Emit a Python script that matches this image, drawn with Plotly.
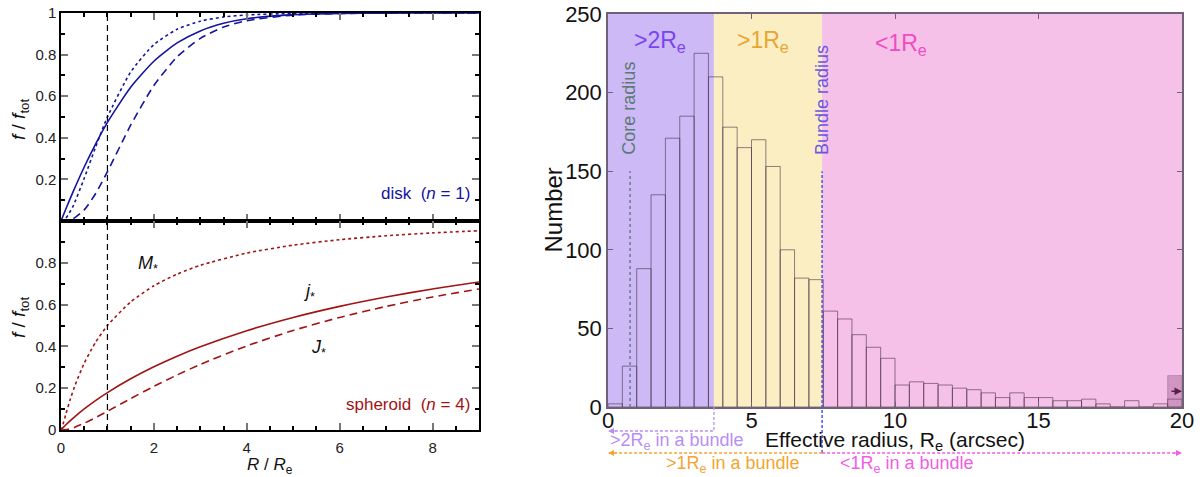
import plotly.graph_objects as go

W, H = 1203, 477

# ---------------- left panels: cumulative fractions ----------------
R_disk = [0, 0.1, 0.25, 0.5, 0.75, 1, 1.5, 2, 2.5, 3, 3.5, 4, 5, 6, 7, 8, 9]
disk_M = [0, 0.0126, 0.0668, 0.2054, 0.3584, 0.5000, 0.7162, 0.8481, 0.9217, 0.9607,
          0.9807, 0.9906, 0.9979, 0.9995, 0.9999, 1.0, 1.0]
disk_J = [0, 0.0007, 0.0090, 0.0533, 0.1334, 0.2372, 0.4606, 0.6517, 0.7891, 0.8782,
          0.9322, 0.9633, 0.9899, 0.9974, 0.9994, 0.9999, 1.0]
disk_j = [0, 0.0556, 0.135, 0.2595, 0.372, 0.474, 0.643, 0.768, 0.856, 0.914,
          0.9505, 0.9724, 0.992, 0.9979, 0.9995, 1.0, 1.0]

R_sph = [0, 0.02, 0.05, 0.1, 0.2, 0.3, 0.5, 0.75, 1, 1.5, 2, 2.5, 3, 4, 5, 6, 7, 8, 9]
sph_M = [0, 0.0096, 0.0319, 0.0720, 0.1471, 0.2127, 0.3198, 0.4217, 0.5000, 0.6127,
         0.6900, 0.7459, 0.7880, 0.8466, 0.8845, 0.9106, 0.9293, 0.9430, 0.9534]
sph_J = [0, 0.00005, 0.0004, 0.0017, 0.0066, 0.0137, 0.0322, 0.0598, 0.0895, 0.1502,
         0.2088, 0.2634, 0.3138, 0.4023, 0.4764, 0.5387, 0.5914, 0.6364, 0.6749]
sph_j = [0, 0.0051, 0.0124, 0.0237, 0.0448, 0.0645, 0.1008, 0.1418, 0.1790, 0.2452,
         0.3026, 0.3532, 0.3982, 0.4752, 0.5386, 0.5916, 0.6364, 0.6748, 0.7079]

R_e_line = 1.0

# ---------------- right panel: histogram ----------------
bin_width = 0.5
bin_starts = [i * bin_width for i in range(40)]
counts = [2, 26, 88, 135, 171, 185, 225, 210, 178, 165,
          170, 153, 100, 82, 81, 61, 56, 46, 38, 31,
          14, 16, 15, 14, 12, 11, 9, 6, 9, 6,
          6, 4, 4, 5, 2, 0, 4, 0, 2, 5]
overflow_start = 19.5
overflow_count = 20
overflow_arrow_level = 10

core_radius = 0.77
bundle_radius = 7.46
r2_edge = 3.69
line_top = 150
x_ticks_right = [0, 5, 10, 15, 20]
y_ticks_right = [0, 50, 100, 150, 200, 250]

BLUE = "#1414a0"
RED = "#a01414"
PURP_BG = "#cdb9f6"
YEL_BG = "#faeec2"
PINK_BG = "#f6c1e8"
C_PURP = "#7a44f0"
C_ORANGE = "#e8a532"
C_MAG = "#ee4cc0"
C_LPURP = "#b88ef6"
C_ORANGE2 = "#f5a431"
C_MAG2 = "#f25ce6"

FONT = "Liberation Sans, Arial, sans-serif"

fig = go.Figure()

# left top (disk)
fig.add_trace(go.Scatter(x=R_disk, y=disk_j, mode="lines", xaxis="x", yaxis="y",
                         line=dict(color=BLUE, width=1.6, shape="spline", smoothing=0.6)))
fig.add_trace(go.Scatter(x=R_disk, y=disk_M, mode="lines", xaxis="x", yaxis="y",
                         line=dict(color=BLUE, width=1.6, dash="dot", shape="spline", smoothing=0.6)))
fig.add_trace(go.Scatter(x=R_disk, y=disk_J, mode="lines", xaxis="x", yaxis="y",
                         line=dict(color=BLUE, width=1.6, dash="8px,5px", shape="spline", smoothing=0.6)))
# left bottom (spheroid)
fig.add_trace(go.Scatter(x=R_sph, y=sph_j, mode="lines", xaxis="x2", yaxis="y2",
                         line=dict(color=RED, width=1.6, shape="spline", smoothing=0.6)))
fig.add_trace(go.Scatter(x=R_sph, y=sph_M, mode="lines", xaxis="x2", yaxis="y2",
                         line=dict(color=RED, width=1.6, dash="dot", shape="spline", smoothing=0.6)))
fig.add_trace(go.Scatter(x=R_sph, y=sph_J, mode="lines", xaxis="x2", yaxis="y2",
                         line=dict(color=RED, width=1.6, dash="8px,5px", shape="spline", smoothing=0.6)))

# histogram
fig.add_trace(go.Bar(x=bin_starts, y=counts, width=bin_width, offset=0, xaxis="x3", yaxis="y3",
                     marker=dict(color="rgba(0,0,0,0)",
                                 line=dict(color="rgba(75,50,75,0.6)", width=1))))
fig.add_trace(go.Bar(x=[overflow_start], y=[overflow_count], width=bin_width, offset=0,
                     xaxis="x3", yaxis="y3",
                     marker=dict(color="rgba(140,70,120,0.35)",
                                 line=dict(color="rgba(120,60,100,0.3)", width=1))))

left_dom = [61 / W, 479 / W]
right_dom = [608 / W, 1182 / W]
top_dom = [1 - 221 / H, 1 - 13 / H]
bot_dom = [1 - 430 / H, 1 - 221 / H]
hist_dom = [1 - 407 / H, 1 - 14 / H]

left_axis = dict(showline=True, linecolor="black", linewidth=1.5, mirror="allticks",
                 ticks="inside", ticklen=7, tickwidth=1.5, tickcolor="#777777",
                 showgrid=False, zeroline=False, automargin=False,
                 tickfont=dict(family=FONT, size=15, color="#222222"))

fig.update_layout(
    width=W, height=H, margin=dict(l=0, r=0, t=0, b=0, autoexpand=False),
    paper_bgcolor="white", plot_bgcolor="white", showlegend=False, barmode="overlay",
    xaxis=dict(domain=left_dom, range=[0, 9], anchor="y", showticklabels=False,
               tickvals=[0, 2, 4, 6, 8],
               minor=dict(tickmode="linear", tick0=0, dtick=0.5, ticks="inside",
                          ticklen=4, tickcolor="black"), **left_axis),
    yaxis=dict(domain=top_dom, range=[0, 1], anchor="x",
               tickvals=[0.2, 0.4, 0.6, 0.8, 1.0], ticktext=["0.2", "0.4", "0.6", "0.8", "1"],
               minor=dict(tickmode="linear", tick0=0, dtick=0.1, ticks="inside",
                          ticklen=4, tickcolor="black"), **left_axis),
    xaxis2=dict(domain=left_dom, range=[0, 9], anchor="y2", ticklabelstandoff=3,
                tickvals=[0, 2, 4, 6, 8],
                minor=dict(tickmode="linear", tick0=0, dtick=0.5, ticks="inside",
                           ticklen=4, tickcolor="black"), **left_axis),
    yaxis2=dict(domain=bot_dom, range=[0, 1], anchor="x2",
                tickvals=[0, 0.2, 0.4, 0.6, 0.8], ticktext=["0", "0.2", "0.4", "0.6", "0.8"],
                minor=dict(tickmode="linear", tick0=0, dtick=0.1, ticks="inside",
                           ticklen=4, tickcolor="black"), **left_axis),
    xaxis3=dict(domain=right_dom, range=[0, 20], anchor="y3", tickvals=x_ticks_right,
                showline=True, linecolor="#6d6276", linewidth=1.5, mirror="ticks",
                ticks="inside", ticklen=5, tickcolor="#6d6276", showgrid=False, zeroline=False,
                automargin=False, ticklabelstandoff=-7,
                tickfont=dict(family=FONT, size=22, color="#111111")),
    yaxis3=dict(domain=hist_dom, range=[0, 250], anchor="x3", tickvals=y_ticks_right,
                showline=True, linecolor="#6d6276", linewidth=1.5, mirror="ticks",
                ticks="inside", ticklen=5, tickcolor="#6d6276", showgrid=False, zeroline=False,
                automargin=False,
                tickfont=dict(family=FONT, size=22, color="#111111")),
)

shapes = []
# background bands
shapes.append(dict(type="rect", xref="x3", yref="y3 domain", x0=0, x1=r2_edge, y0=0, y1=1,
                   fillcolor=PURP_BG, line=dict(width=0), layer="below"))
shapes.append(dict(type="rect", xref="x3", yref="y3 domain", x0=r2_edge, x1=bundle_radius, y0=0, y1=1,
                   fillcolor=YEL_BG, line=dict(width=0), layer="below"))
shapes.append(dict(type="rect", xref="x3", yref="y3 domain", x0=bundle_radius, x1=20, y0=0, y1=1,
                   fillcolor=PINK_BG, line=dict(width=0), layer="below"))
# R = Re dashed lines on left
for xr, yr in (("x", "y domain"), ("x2", "y2 domain")):
    shapes.append(dict(type="line", xref=xr, yref=yr, x0=R_e_line, x1=R_e_line, y0=0, y1=1,
                       line=dict(color="black", width=1.2, dash="6px,4px")))
# core radius dotted line
shapes.append(dict(type="line", xref="x3", yref="y3", x0=core_radius, x1=core_radius,
                   y0=0, y1=line_top, line=dict(color="#6c7a86", width=1.5, dash="dot")))
# bundle radius line, extending below axis
y_arrow_low = 1 - 453 / H
y_arrow_hi = 1 - 431 / H
y_axis0 = hist_dom[0]
y_line_top = hist_dom[0] + (hist_dom[1] - hist_dom[0]) * line_top / 250
shapes.append(dict(type="line", xref="x3", yref="paper", x0=bundle_radius, x1=bundle_radius,
                   y0=y_arrow_low, y1=y_line_top, line=dict(color="#4a55ee", width=1.5, dash="3px,2px")))
# >2Re in a bundle
shapes.append(dict(type="path", xref="x3", yref="paper",
                   path=f"M {r2_edge},{y_axis0} L {r2_edge},{y_arrow_hi} L 0,{y_arrow_hi}",
                   line=dict(color=C_LPURP, width=1.3, dash="3px,2px")))
# >1Re in a bundle
shapes.append(dict(type="line", xref="x3", yref="paper", x0=bundle_radius, x1=0,
                   y0=y_arrow_low, y1=y_arrow_low, line=dict(color=C_ORANGE2, width=1.3, dash="3px,2px")))
# <1Re in a bundle
shapes.append(dict(type="line", xref="x3", yref="paper", x0=bundle_radius, x1=20,
                   y0=y_arrow_low, y1=y_arrow_low, line=dict(color=C_MAG2, width=1.3, dash="3px,2px")))
fig.update_layout(shapes=shapes)

ann = []
def txt(text, x, y, xref, yref, color, size, xanchor="center", yanchor="middle", angle=0):
    ann.append(dict(text=text, x=x, y=y, xref=xref, yref=yref, showarrow=False,
                    font=dict(family=FONT, size=size, color=color),
                    xanchor=xanchor, yanchor=yanchor, textangle=angle))

# left-panel texts
txt("<i>f</i> / <i>f</i><sub>tot</sub>", 20 / W, 1 - 120 / H, "paper", "paper", "#111111", 19, angle=-90)
txt("<i>f</i> / <i>f</i><sub>tot</sub>", 20 / W, 1 - 318 / H, "paper", "paper", "#111111", 19, angle=-90)
txt("disk  (<i>n</i> = 1)", 8.85, 0.13, "x", "y", BLUE, 17, xanchor="right")
txt("spheroid  (<i>n</i> = 4)", 8.85, 0.12, "x2", "y2", RED, 17, xanchor="right")
txt("<i>M</i><sub>*</sub>", 1.87, 0.79, "x2", "y2", "#111111", 18)
txt("<i>j</i><sub>*</sub>", 5.35, 0.66, "x2", "y2", "#111111", 18)
txt("<i>J</i><sub>*</sub>", 5.55, 0.39, "x2", "y2", "#111111", 18)
txt("<i>R</i> / <i>R</i><sub>e</sub>", sum(left_dom) / 2, 1 - 466 / H, "paper", "paper", "#111111", 17)

# right-panel axis titles
txt("Number", 553 / W, sum(hist_dom) / 2, "paper", "paper", "#111111", 24, angle=-90)
txt("Effective radius, R<sub>e</sub> (arcsec)", sum(right_dom) / 2, 1 - 441 / H, "paper", "paper",
    "#111111", 21)

# right-panel texts
txt("&gt;2R<sub>e</sub>", 1.8, 1 - 42 / H, "x3", "paper", C_PURP, 23)
txt("&gt;1R<sub>e</sub>", 5.4, 1 - 42 / H, "x3", "paper", C_ORANGE, 23)
txt("&lt;1R<sub>e</sub>", 10.2, 1 - 45 / H, "x3", "paper", C_MAG, 23)
txt("Core radius", core_radius - 0.05, 1 - 108 / H, "x3", "paper", "#5b7a72", 18, angle=-90)
txt("Bundle radius", bundle_radius, 1 - 100 / H, "x3", "paper", "#6a58e0", 18, angle=-90)
txt("&gt;2R<sub>e</sub> in a bundle", 0, 1 - 441 / H, "x3", "paper", C_LPURP, 18, xanchor="left")
txt("&gt;1R<sub>e</sub> in a bundle", 4.35, 1 - 464 / H, "x3", "paper", C_ORANGE2, 18)
txt("&lt;1R<sub>e</sub> in a bundle", 8.0, 1 - 464 / H, "x3", "paper", C_MAG2, 18, xanchor="left")

# arrowheads
def arrow(x, y, xref, yref, ax, color, width=1.2):
    ann.append(dict(text="", x=x, y=y, xref=xref, yref=yref, ax=ax, ay=0, showarrow=True,
                    arrowhead=2, arrowsize=1, arrowwidth=width, arrowcolor=color))
arrow(0, y_arrow_hi, "x3", "paper", 10, C_LPURP)
arrow(0, y_arrow_low, "x3", "paper", 10, C_ORANGE2)
arrow(20, y_arrow_low, "x3", "paper", -10, C_MAG2)
arrow(20, overflow_arrow_level, "x3", "y3", -12, "#5a2048", 1.5)

fig.update_layout(annotations=ann)

fig.write_html("out.html", config={"displayModeBar": False},
               post_script="document.body.style.margin='0';document.body.style.overflow='hidden';")
